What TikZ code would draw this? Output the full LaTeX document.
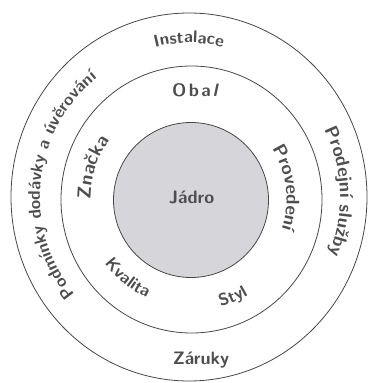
\documentclass[tikz,border=0pt]{standalone}
\usepackage{fontspec}
\usetikzlibrary{decorations.text}
\definecolor{txt}{RGB}{78,78,78}
\definecolor{ln}{RGB}{70,70,70}
\definecolor{core}{RGB}{214,214,218}
\newcommand\lblbig{\sffamily\bfseries\fontsize{18}{18}\selectfont}
\tikzset{
  ring/.style={draw=ln, line width=0.8pt},
  curved/.style n args={2}{decorate, decoration={text along path, text align=center, text color=txt, text={|\sffamily\bfseries\fontsize{#1}{#1}\selectfont|#2}}},
  lab/.style={text=txt, font=\lblbig, inner sep=0pt}
}
% clockwise text: centre, angle, x radius, y radius, size, text
\newcommand\cwtxt[6]{\path[curved={#5}{#6}] ([shift={(#2+70:#3 and #4)}]#1) arc[start angle=#2+70, end angle=#2-70, x radius=#3, y radius=#4];}
\newcommand\ccwtxt[6]{\path[curved={#5}{#6}] ([shift={(#2-70:#3 and #4)}]#1) arc[start angle=#2-70, end angle=#2+70, x radius=#3, y radius=#4];}
\begin{document}
\begin{tikzpicture}[x=1pt,y=1pt]
\useasboundingbox (0,0) rectangle (374,383);
\coordinate (oc) at (189,186);
\coordinate (mc) at (191.5,183.5);
\coordinate (ic) at (191,183);
\draw[ring] (oc) ellipse [x radius=178, y radius=184];
\draw[ring] (mc) ellipse [x radius=130.5, y radius=133.5];
\draw[ring, fill=core] (ic) circle [radius=77.5];
% outer ring
\cwtxt{oc}{90}{146}{154}{17}{Instalace}
\cwtxt{oc}{174}{149}{151}{17}{Podmínky dodávky a úvěrování}
\cwtxt{oc}{2}{151}{152}{18.5}{Prodejní služby}
\node[lab, anchor=base] (zaruky) at (201,18) {Záruky};
% middle ring
\node[lab, anchor=base] (obal) at (195.5,286) {O\kern2.5pt b\kern2.5pt a\kern2pt\textit{l}};
\cwtxt{mc}{162}{101}{101}{19}{Značka}
\cwtxt{mc}{7}{95}{95}{18.5}{Provedení}
\ccwtxt{mc}{231}{108}{108}{17}{Kvalita}
\ccwtxt{mc}{293}{111}{111}{17}{Styl}
% core
\node[lab, anchor=base] (jadro) at (191.5,179) {Jádro};
\end{tikzpicture}
\end{document}
